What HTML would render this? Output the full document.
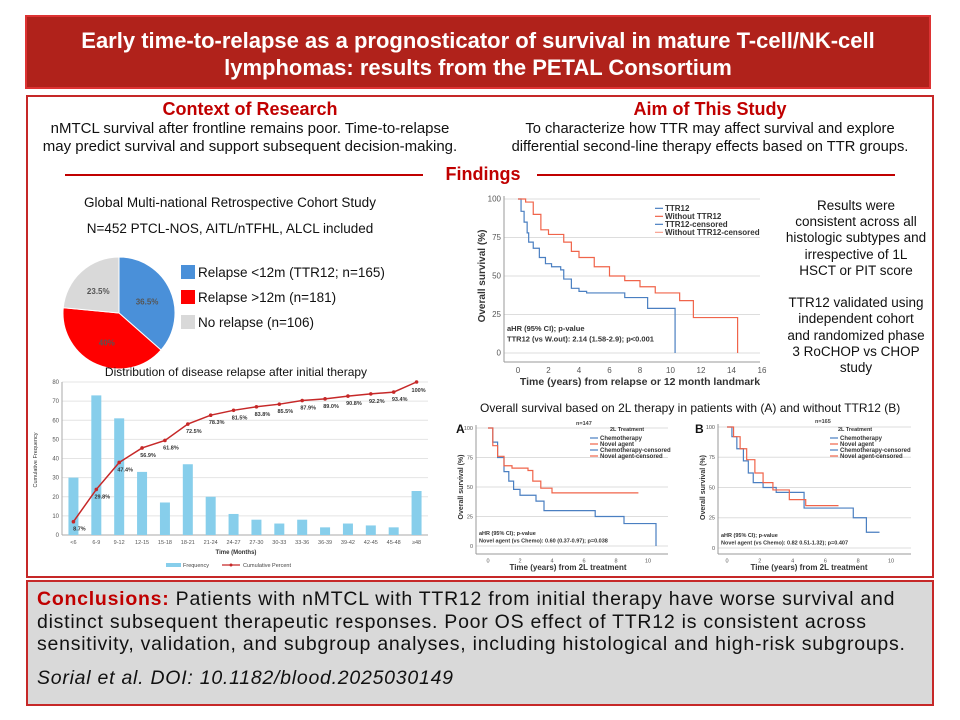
<!DOCTYPE html>
<html><head><meta charset="utf-8"><style>
body{margin:0;width:960px;height:720px;background:#fff;font-family:"Liberation Sans",Arial,sans-serif;position:relative;overflow:hidden}
.abs{position:absolute}
.c{text-align:center}
h2{margin:0;color:#c00000;font-size:18px;font-weight:bold}
</style></head><body>
<div class="abs c" style="left:25px;top:15px;width:906px;height:74px;background:#b0221b;border:2px solid #d33;color:#fff;font-weight:bold;font-size:22px;line-height:27px;padding-top:10px;box-sizing:border-box">Early time-to-relapse as a prognosticator of survival in mature T-cell/NK-cell lymphomas: results from the PETAL Consortium</div>
<div class="abs" style="left:26px;top:95px;width:908px;height:483px;border:2px solid #c62828;box-sizing:border-box"></div>
<div class="abs c" style="left:35px;top:99px;width:430px">
<h2>Context of Research</h2>
<div style="font-size:15px;line-height:18px;color:#111;padding:0 4px">nMTCL survival after frontline remains poor. Time-to-relapse may predict survival and support subsequent decision-making.</div></div>
<div class="abs c" style="left:490px;top:99px;width:440px">
<h2>Aim of This Study</h2>
<div style="font-size:14.7px;line-height:18px;color:#111">To characterize how TTR may affect survival and explore differential second-line therapy effects based on TTR groups.</div></div>
<div class="abs c" style="left:430px;top:164px;width:106px;color:#c00000;font-weight:bold;font-size:18px">Findings</div>
<div class="abs" style="left:65px;top:174px;width:358px;height:2px;background:#c00000"></div>
<div class="abs" style="left:537px;top:174px;width:358px;height:2px;background:#c00000"></div>
<div class="abs c" style="left:60px;top:190px;width:340px;font-size:13.5px;line-height:26px;color:#111">Global Multi-national Retrospective Cohort Study<br>N=452 PTCL-NOS, AITL/nTFHL, ALCL included</div>
<div class="abs c" style="left:776px;top:198px;width:160px;font-size:13.5px;line-height:16.2px;color:#111;white-space:nowrap">Results were<br>consistent across all<br>histologic subtypes and<br>irrespective of 1L<br>HSCT or PIT score<br><br>TTR12 validated using<br>independent cohort<br>and randomized phase<br>3 RoCHOP vs CHOP<br>study</div>
<div class="abs" style="left:480px;top:401px;font-size:12px;color:#111">Overall survival based on 2L therapy in patients with (A) and without TTR12 (B)</div>
<div class="abs" style="left:26px;top:580px;width:908px;height:126px;background:#d9d9d9;border:2px solid #c62828;box-sizing:border-box;padding:6px 9px;font-size:19.5px;letter-spacing:0.75px;line-height:22.5px;color:#111;white-space:nowrap">
<span style="color:#c00000;font-weight:bold">Conclusions:</span> Patients with nMTCL with TTR12 from initial therapy have worse survival and<br>distinct subsequent therapeutic responses. Poor OS effect of TTR12 is consistent across<br>sensitivity, validation, and subgroup analyses, including histological and high-risk subgroups.
<div style="font-style:italic;margin-top:11px">Sorial et al. DOI: 10.1182/blood.2025030149</div></div>
<svg id="s" class="abs" style="left:0;top:0" width="960" height="720"></svg>
<script>
const pieLabels=["36.5%","40%","23.5%"];
const pieValues=[36.5,40,23.5];
const pieLegend=["Relapse <12m (TTR12; n=165)","Relapse >12m (n=181)","No relapse (n=106)"];
const barCats=["<6","6-9","9-12","12-15","15-18","18-21","21-24","24-27","27-30","30-33","33-36","36-39","39-42","42-45","45-48","≥48"];
const barFreq=[30,73,61,33,17,37,20,11,8,6,8,4,6,5,4,23];
const cumPct=[8.7,29.8,47.4,56.9,61.8,72.5,78.3,81.5,83.8,85.5,87.9,89.0,90.8,92.2,93.4,100];
const barTicks=[0,10,20,30,40,50,60,70,80];
const kmT1=[0,0.2,0.4,0.6,0.7,1,1.4,1.8,2.2,2.8,3,3.5,4,4.5,7,8.5,10.3,10.3];
const kmS1=[100,92,85,78,72,68,62,58,56,54,48,42,40,39,36,29,29,0];
const kmT2=[0,0.5,1,1.5,2,3,3.5,4,5,6,7,8,9,10.6,11.5,14.4,14.4];
const kmS2=[100,98,90,80,77,72,66,62,56,50,47,43,39,34,23,23,0];
const aChemoT=[0,0.3,0.6,1,1.3,1.6,2,3,3.5,6.7,8.5,10.5,10.5];
const aChemoS=[100,88,75,63,55,48,43,38,30,25,19,19,0];
const aNovelT=[0,0.3,0.6,1,1.5,2.5,2.8,3.3,4,9.4];
const aNovelS=[100,85,76,68,66,64,55,49,45,45];
const bChemoT=[0,0.3,0.6,1,1.3,1.6,2.2,3,4.7,7.7,8.5,9.3];
const bChemoS=[100,92,82,72,62,54,50,46,33,25,13,13];
const bNovelT=[0,0.4,0.8,1.2,1.7,2.2,2.8,3.8,4.8,6.8];
const bNovelS=[100,92,82,73,62,54,48,40,35,35];
const S=document.getElementById('s');const NS="http://www.w3.org/2000/svg";
function mk(t,a,txt){const e=document.createElementNS(NS,t);for(const k in a)e.setAttribute(k,a[k]);if(txt!==undefined)e.textContent=txt;S.appendChild(e);return e;}
const cx=119,cy=313,r=56,pc=["#4a90d9","#ff0000","#d9d9d9"];let ang=-Math.PI/2;
pieValues.forEach((v,i)=>{const a2=ang+v/100*2*Math.PI;const x1=cx+r*Math.cos(ang),y1=cy+r*Math.sin(ang),x2=cx+r*Math.cos(a2),y2=cy+r*Math.sin(a2);
const p=mk('path',{d:`M${cx},${cy}L${x1},${y1}A${r},${r} 0 ${v>50?1:0} 1 ${x2},${y2}Z`,fill:pc[i],stroke:"#fff","stroke-width":1});

const m=(ang+a2)/2;const t=mk('text',{x:cx+r*0.55*Math.cos(m),y:cy+r*0.55*Math.sin(m)+4,"text-anchor":"middle","font-size":8,"font-weight":"bold",fill:"#555"},pieLabels[i]);

const sq=mk('rect',{x:181,y:265+i*25,width:14,height:14,fill:pc[i]});
const lt=mk('text',{x:198,y:277+i*25,"font-size":13.5,fill:"#111"},pieLegend[i]);
ang=a2;});
mk('text',{x:236,y:376,"text-anchor":"middle","font-size":12,fill:"#111"},"Distribution of disease relapse after initial therapy");
const bx0=62,bx1=428,by0=535,by1=382,yv=v=>by0-(v/80)*(by0-by1),bw=(bx1-bx0)/barCats.length,xc=i=>bx0+bw*(i+0.5);
barTicks.forEach(t=>{mk('line',{x1:bx0,x2:bx1,y1:yv(t),y2:yv(t),stroke:"#e4e4e4"});mk('text',{x:bx0-3,y:yv(t)+2,"text-anchor":"end","font-size":6,fill:"#555"},t);});
mk('line',{x1:bx0,x2:bx0,y1:by1,y2:by0,stroke:"#aaa"});mk('line',{x1:bx0,x2:bx1,y1:by0,y2:by0,stroke:"#aaa"});
barFreq.forEach((v,i)=>{const b=mk('rect',{x:xc(i)-5,y:yv(v),width:10,height:by0-yv(v),fill:"#87ceeb"});
mk('text',{x:xc(i),y:by0+9,"text-anchor":"middle","font-size":5.5,fill:"#555"},barCats[i]);});
mk('polyline',{points:cumPct.map((p,i)=>xc(i)+","+yv(p*0.8)).join(" "),fill:"none",stroke:"#c62828","stroke-width":1.5});
cumPct.forEach((p,i)=>{const d=mk('circle',{cx:xc(i),cy:yv(p*0.8),r:1.8,fill:"#c62828"});
mk('text',{x:xc(i)+(i==15?2:6),y:yv(p*0.8)+(i==15?10:9),"text-anchor":"middle","font-size":5.5,"font-weight":"bold",fill:"#333"},(p===100?"100":p.toFixed(1))+"%");});
mk('text',{x:236,y:554,"text-anchor":"middle","font-size":6,"font-weight":"bold",fill:"#333"},"Time (Months)");
mk('text',{x:0,y:0,transform:"translate(37,460) rotate(-90)","text-anchor":"middle","font-size":5.5,fill:"#333"},"Cumulative Frequency");
mk('rect',{x:166,y:563,width:15,height:4,fill:"#87ceeb"});mk('text',{x:183,y:567,"font-size":5.5,fill:"#444"},"Frequency");
mk('line',{x1:222,x2:240,y1:565,y2:565,stroke:"#c62828","stroke-width":1.2});mk('circle',{cx:231,cy:565,r:1.5,fill:"#c62828"});mk('text',{x:243,y:567,"font-size":5.5,fill:"#444"},"Cumulative Percent");
function km(o){const X=t=>o.x0+(o.x1-o.x0)*t/o.tmax,Y=s=>o.y0-(o.y0-o.y1)*s/100;
[0,25,50,75,100].forEach(s=>{mk('line',{x1:o.ax,x2:o.x1+o.ext,y1:Y(s),y2:Y(s),stroke:"#ddd"});mk('text',{x:o.ax-3,y:Y(s)+o.fs/3,"text-anchor":"end","font-size":o.fs,fill:"#555"},s);});
mk('line',{x1:o.ax,x2:o.ax,y1:o.y1-3,y2:o.by,stroke:"#999"});mk('line',{x1:o.ax,x2:o.x1+o.ext,y1:o.by,y2:o.by,stroke:"#999"});
o.ticks.forEach(t=>mk('text',{x:X(t),y:o.by+o.fs+3,"text-anchor":"middle","font-size":o.fs,fill:"#555"},t));
o.series.forEach(([T,Sv,c,nm])=>{let d="M"+X(T[0])+","+Y(Sv[0]);for(let i=1;i<T.length;i++)d+="H"+X(T[i])+"V"+Y(Sv[i]);
const p=mk('path',{d,fill:"none",stroke:c,"stroke-width":1.2});});
mk('text',{x:(o.x0+o.x1)/2+o.xlo,y:o.by+o.fs*2+o.xlg,"text-anchor":"middle","font-size":o.xfs,"font-weight":"bold",fill:"#333"},o.xlab);
mk('text',{x:0,y:0,transform:`translate(${o.ax-o.fs*2.4},${(o.y0+o.y1)/2}) rotate(-90)`,"text-anchor":"middle","font-size":o.yfs,"font-weight":"bold",fill:"#333"},"Overall survival (%)");
o.hr.forEach((h,i)=>mk('text',{x:o.ax+3,y:o.hy+i*o.hfs*1.4,"font-size":o.hfs,"font-weight":"bold",fill:"#333"},h));
o.leg.forEach(([c,t],i)=>{mk('line',{x1:o.lx,x2:o.lx+8,y1:o.ly+i*o.lfs-o.lfs/3,y2:o.ly+i*o.lfs-o.lfs/3,stroke:c,"stroke-width":1.2});mk('text',{x:o.lx+10,y:o.ly+i*o.lfs,"font-size":o.lfs,"font-weight":"bold",fill:"#333"},t);});}
km({x0:518,x1:762,tmax:16,y0:353,y1:199,ax:504,by:362,ext:-2,fs:8,xfs:10.5,yfs:10,hfs:7.5,lfs:8,xlg:7,ticks:[0,2,4,6,8,10,12,14,16],xlo:0,xlab:"Time (years) from relapse or 12 month landmark",
series:[[kmT1,kmS1,"#4a7fc1","km-ttr12"],[kmT2,kmS2,"#f0644a","km-without-ttr12"]],hr:["aHR (95% CI); p-value","TTR12 (vs W.out): 2.14 (1.58-2.9); p<0.001"],hy:331,
leg:[["#4a7fc1","TTR12"],["#f0644a","Without TTR12"],["#4a7fc1","TTR12-censored"],["#f7a090","Without TTR12-censored"]],lx:655,ly:211});
km({x0:488,x1:648,tmax:10,y0:546,y1:428,ax:476,by:554,ext:20,fs:5.5,xfs:8,yfs:7,hfs:5.5,lfs:6,xlg:5,ticks:[0,2,4,6,8,10],xlo:0,xlab:"Time (years) from 2L treatment",
series:[[aChemoT,aChemoS,"#4a7fc1","km-a-chemo"],[aNovelT,aNovelS,"#f0644a","km-a-novel"]],hr:["aHR (95% CI); p-value","Novel agent (vs Chemo): 0.60 (0.37-0.97); p=0.038"],hy:535,
leg:[["#4a7fc1","Chemotherapy"],["#f0644a","Novel agent"],["#4a7fc1","Chemotherapy-censored"],["#f0644a","Novel agent-censored"]],lx:590,ly:440});
km({x0:727,x1:891,tmax:10,y0:548,y1:427,ax:718,by:554,ext:20,fs:5.5,xfs:8,yfs:7,hfs:5.5,lfs:6,xlg:5,ticks:[0,2,4,6,8,10],xlo:0,xlab:"Time (years) from 2L treatment",
series:[[bChemoT,bChemoS,"#4a7fc1","km-b-chemo"],[bNovelT,bNovelS,"#f0644a","km-b-novel"]],hr:["aHR (95% CI); p-value","Novel agent (vs Chemo): 0.82 0.51-1.32); p=0.407"],hy:537,
leg:[["#4a7fc1","Chemotherapy"],["#f0644a","Novel agent"],["#4a7fc1","Chemotherapy-censored"],["#f0644a","Novel agent-censored"]],lx:830,ly:440});
mk('text',{x:576,y:425,"font-size":5.5,"font-weight":"bold",fill:"#444"},"n=147");mk('text',{x:610,y:431,"font-size":5.5,"font-weight":"bold",fill:"#333"},"2L Treatment");
mk('text',{x:815,y:423,"font-size":5.5,"font-weight":"bold",fill:"#444"},"n=165");mk('text',{x:838,y:431,"font-size":5.5,"font-weight":"bold",fill:"#333"},"2L Treatment");
mk('text',{x:456,y:433,"font-size":12,"font-weight":"bold",fill:"#111"},"A");mk('text',{x:695,y:433,"font-size":12,"font-weight":"bold",fill:"#111"},"B");
</script>
</body></html>
